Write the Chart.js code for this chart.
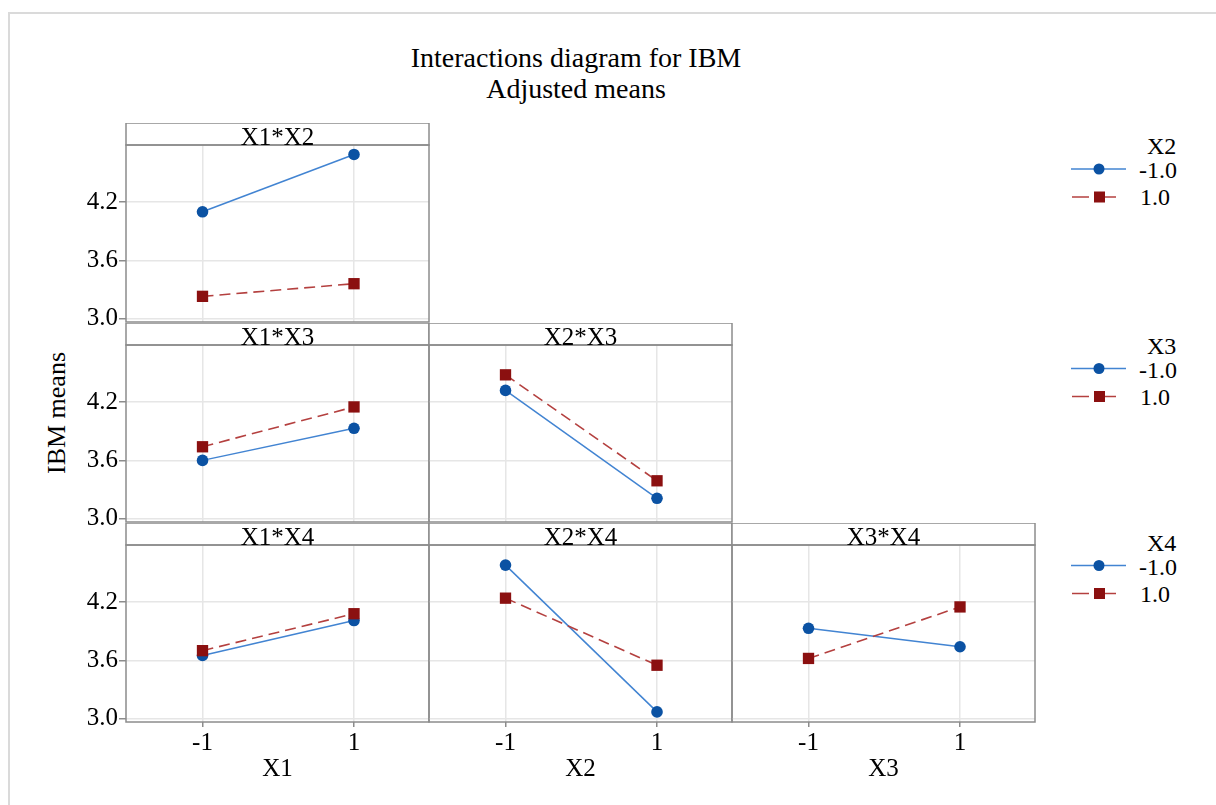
<!DOCTYPE html>
<html>
<head>
<meta charset="utf-8">
<script src="https://cdn.jsdelivr.net/npm/chart.js@4.4.1/dist/chart.umd.min.js"></script>
<style>
html,body{margin:0;padding:0;background:#fff;}
#root{position:relative;width:1216px;height:805px;overflow:hidden;font-family:"Liberation Serif","Times New Roman",serif;color:#000;background:#fff;}
#frame{position:absolute;left:8px;top:12px;width:1230px;height:820px;border-left:2px solid #dadada;border-top:2px solid #dadada;}
canvas{position:absolute;}
.t{position:absolute;white-space:nowrap;font-size:24px;line-height:24px;}
svg{position:absolute;overflow:visible;}
</style>
</head>
<body>
<div id="root"><div id="frame"></div></div>
<script>
// ---------------- data ----------------
const chartTitle = ['Interactions diagram for IBM', 'Adjusted means'];
const yAxisName = 'IBM means';
const xAxisNames = ['X1', 'X2', 'X3'];
const levels = [-1, 1];
const xTickLabels = ['-1', '1'];
const yTicks = [3.0, 3.6, 4.2];
const legendFactors = ['X2', 'X3', 'X4'];
const legendLevels = ['-1.0', '1.0'];
const panelTitles = ['X1*X2', 'X1*X3', 'X2*X3', 'X1*X4', 'X2*X4', 'X3*X4'];

// adjusted means: "Low" = second factor at -1.0, "High" = second factor at 1.0
const x1x2Low  = [4.10, 4.69];
const x1x2High = [3.23, 3.36];
const x1x3Low  = [3.60, 3.93];
const x1x3High = [3.74, 4.15];
const x2x3Low  = [4.32, 3.21];
const x2x3High = [4.48, 3.39];
const x1x4Low  = [3.65, 4.01];
const x1x4High = [3.70, 4.08];
const x2x4Low  = [4.58, 3.07];
const x2x4High = [4.24, 3.55];
const x3x4Low  = [3.93, 3.74];
const x3x4High = [3.62, 4.15];

// ---------------- layout / style ----------------
const FONT = '"Liberation Serif", "Times New Roman", serif';
const FS = 25;
const BLUE = '#0b52a3', BLUE_LINE = '#4284d2';
const RED = '#8b1010', RED_LINE = '#b4403f';
const GRID = '#e6e6e6', FRAME = '#8c8c8c';
const G = {plotLeft0:126, colStep:303, plotTop0:145, rowStep:200, plotW:303, plotH:177,
           head:22, leftGut:120, botGut:70, yMin:2.966, yMax:4.787, xMin:-2.01, xMax:1.99};

const panels = [
  {title:panelTitles[0], row:0, col:0, lo:x1x2Low, hi:x1x2High},
  {title:panelTitles[1], row:1, col:0, lo:x1x3Low, hi:x1x3High},
  {title:panelTitles[2], row:1, col:1, lo:x2x3Low, hi:x2x3High},
  {title:panelTitles[3], row:2, col:0, lo:x1x4Low, hi:x1x4High},
  {title:panelTitles[4], row:2, col:1, lo:x2x4Low, hi:x2x4High},
  {title:panelTitles[5], row:2, col:2, lo:x3x4Low, hi:x3x4High},
];

const root = document.getElementById('root');

function addText(txt, left, top, extra) {
  const d = document.createElement('div');
  d.className = 't';
  d.textContent = txt;
  d.style.left = left + 'px';
  d.style.top = top + 'px';
  if (extra) Object.assign(d.style, extra);
  root.appendChild(d);
  return d;
}

// title
const td = document.createElement('div');
td.className = 't';
Object.assign(td.style, {left:'276px', width:'600px', top:'41.5px', textAlign:'center', fontSize:'28px', lineHeight:'31.6px'});
td.innerHTML = chartTitle[0] + '<br>' + chartTitle[1];
root.appendChild(td);

// y axis title (rotated)
addText(yAxisName, 57 - 100, 413 - 15, {width:'200px', height:'30px', lineHeight:'30px', textAlign:'center', fontSize:'26px', transform:'rotate(-90deg)'});

// panel frame plugin
const panelFrame = {
  id: 'panelFrame',
  afterDraw(chart, args, opts) {
    const {ctx, chartArea:a} = chart;
    ctx.save();
    ctx.fillStyle = '#fff';
    ctx.fillRect(a.left, a.top - G.head, a.right - a.left, G.head);
    ctx.strokeStyle = FRAME;
    ctx.lineWidth = 1.5;
    ctx.strokeRect(a.left, a.top - G.head, a.right - a.left, G.head);
    ctx.strokeRect(a.left, a.top, a.right - a.left, a.bottom - a.top);
    ctx.fillStyle = '#000';
    ctx.font = FS + 'px ' + FONT;
    ctx.textAlign = 'center';
    ctx.textBaseline = 'alphabetic';
    ctx.fillText(opts.text, (a.left + a.right) / 2, a.top - 0.5);
    ctx.restore();
  }
};

function makePanel(p) {
  const cv = document.createElement('canvas');
  const W = G.leftGut + G.plotW + 1, H = G.head + G.plotH + G.botGut;
  cv.width = W; cv.height = H;
  cv.style.width = W + 'px'; cv.style.height = H + 'px';
  cv.style.left = (G.plotLeft0 + p.col * G.colStep - G.leftGut) + 'px';
  cv.style.top = (G.plotTop0 + p.row * G.rowStep - G.head) + 'px';
  root.appendChild(cv);
  const showY = p.col === 0, showX = p.row === 2;
  new Chart(cv, {
    type: 'line',
    data: {
      datasets: [
        {label: legendLevels[0], data: levels.map((x, i) => ({x: x, y: p.lo[i]})),
         borderColor: BLUE_LINE, borderWidth: 1.5, pointStyle: 'circle', pointRadius: 5.8,
         pointBackgroundColor: BLUE, pointBorderColor: BLUE, pointBorderWidth: 0, order: 1, tension: 0},
        {label: legendLevels[1], data: levels.map((x, i) => ({x: x, y: p.hi[i]})),
         borderColor: RED_LINE, borderWidth: 1.6, borderDash: [11, 6], pointStyle: 'rect', pointRadius: 8,
         pointBackgroundColor: RED, pointBorderColor: RED, pointBorderWidth: 0, order: 0, tension: 0}
      ]
    },
    options: {
      responsive: false, animation: false, devicePixelRatio: 1,
      layout: {autoPadding: false, padding: {left: 0, right: 1, top: G.head, bottom: 0}},
      plugins: {legend: {display: false}, tooltip: {enabled: false}, panelFrame: {text: p.title}},
      scales: {
        x: {
          type: 'linear', min: G.xMin, max: G.xMax,
          afterBuildTicks: s => { s.ticks = levels.map(v => ({value: v})); },
          afterFit: s => { s.height = G.botGut; },
          ticks: {display: showX, callback: v => xTickLabels[levels.indexOf(v)], font: {family: FONT, size: FS},
                  color: '#000', padding: 1, maxRotation: 0, autoSkip: false},
          grid: {color: GRID, lineWidth: 1.5, drawTicks: showX, tickLength: 5, tickColor: FRAME, tickWidth: 1.5},
          border: {display: false},
          title: {display: showX, text: xAxisNames[p.col], font: {family: FONT, size: FS}, color: '#000',
                  padding: {top: 0, bottom: 8}}
        },
        y: {
          type: 'linear', min: G.yMin, max: G.yMax,
          afterBuildTicks: s => { s.ticks = yTicks.map(v => ({value: v})); },
          afterFit: s => { s.width = G.leftGut; },
          ticks: {display: showY, callback: v => v.toFixed(1), font: {family: FONT, size: FS}, color: '#000', padding: 1},
          grid: {color: GRID, lineWidth: 1.5, drawTicks: showY, tickLength: 7, tickColor: FRAME, tickWidth: 1.5},
          border: {display: false}
        }
      }
    },
    plugins: [panelFrame]
  });
}
panels.forEach(makePanel);

// legends
const legendTitleY = [146, 345.5, 542.5];
const NS = 'http://www.w3.org/2000/svg';
function svgEl(tag, attrs) {
  const e = document.createElementNS(NS, tag);
  for (const k in attrs) e.setAttribute(k, attrs[k]);
  return e;
}
legendFactors.forEach((f, g) => {
  const ty = legendTitleY[g];
  addText(f, 1147, ty - 12);
  const y1 = ty + 24, y2 = ty + 51;
  addText(legendLevels[0], 1139, y1 - 12);
  addText(legendLevels[1], 1140, y2 - 12);
  const svg = svgEl('svg', {width: 1, height: 1});
  svg.style.left = '0px'; svg.style.top = '0px';
  svg.appendChild(svgEl('line', {x1: 1071, y1: y1 - 1, x2: 1126, y2: y1 - 1, stroke: BLUE_LINE, 'stroke-width': 1.5}));
  svg.appendChild(svgEl('circle', {cx: 1099, cy: y1 - 1, r: 5.5, fill: BLUE}));
  svg.appendChild(svgEl('line', {x1: 1072, y1: y2, x2: 1089, y2: y2, stroke: RED_LINE, 'stroke-width': 1.5}));
  svg.appendChild(svgEl('line', {x1: 1105, y1: y2, x2: 1116, y2: y2, stroke: RED_LINE, 'stroke-width': 1.5}));
  svg.appendChild(svgEl('rect', {x: 1094, y: y2 - 5.5, width: 11, height: 11, fill: RED}));
  root.appendChild(svg);
});
</script>
</body>
</html>
